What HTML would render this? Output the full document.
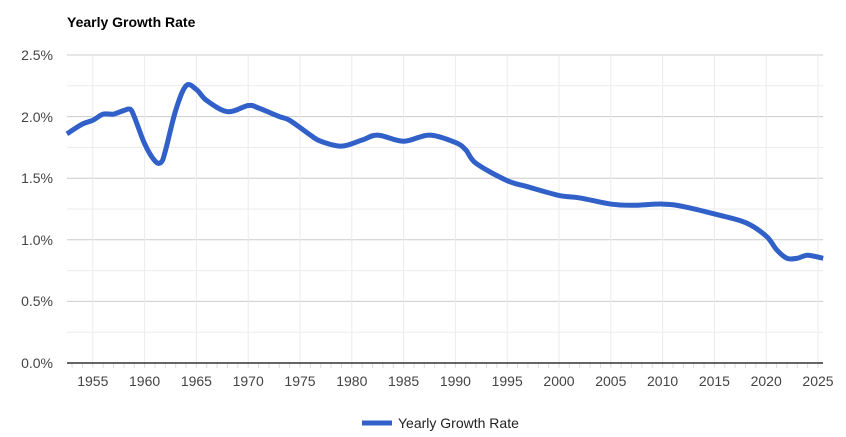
<!DOCTYPE html>
<html><head><meta charset="utf-8"><style>
body{margin:0;background:#fff;}
svg{display:block;font-family:"Liberation Sans",Arial,sans-serif;}
</style></head><body>
<svg id="s" width="846" height="437" xmlns="http://www.w3.org/2000/svg">
<text x="67" y="27" font-size="14" font-weight="bold" fill="#000">Yearly Growth Rate</text>
<g id="grid"></g>
<g font-size="14" fill="#444" text-anchor="end">
<text x="53" y="60">2.5%</text>
<text x="53" y="122">2.0%</text>
<text x="53" y="183">1.5%</text>
<text x="53" y="245">1.0%</text>
<text x="53" y="306">0.5%</text>
<text x="53" y="368">0.0%</text>
</g>
<g id="xl" font-size="14" fill="#444" text-anchor="middle"></g>
<path id="ln" fill="none" stroke="#3060c8" stroke-width="5" stroke-linejoin="round" stroke-linecap="butt"/>
<line x1="362" y1="423" x2="392" y2="423" stroke="#3060c8" stroke-width="5"/>
<text x="398" y="428" font-size="14" fill="#222">Yearly Growth Rate</text>
</svg>
<script>
var X=function(y){return 818+(y-2025)*10.36;};
var Y=function(v){return 363-v*123.2;};
var g='';
for(var i=1;i<=10;i++){var yy=363-i*30.8;g+='<line x1="67" x2="823" y1="'+yy+'" y2="'+yy+'" stroke="'+(i%2==0?'#ccc':'#ebebeb')+'" stroke-width="1"/>';}
for(var yr=1955;yr<=2025;yr+=5){var x=X(yr);g+='<line x1="'+x+'" x2="'+x+'" y1="55" y2="363" stroke="#ebebeb"/>';}
for(var yr=1953;yr<=2025;yr++){var x=X(yr);g+='<line x1="'+x+'" x2="'+x+'" y1="363" y2="368" stroke="#ddd"/>';}
g+='<line x1="67" x2="823" y1="363" y2="363" stroke="#333" stroke-width="1.5"/>';
document.getElementById('grid').innerHTML=g;
var xl='';for(var yr=1955;yr<=2025;yr+=5){xl+='<text x="'+X(yr)+'" y="386">'+yr+'</text>';}
document.getElementById('xl').innerHTML=xl;
var d=[[1952.5,1.86],[1954,1.94],[1955,1.97],[1956,2.02],[1957,2.02],[1958,2.05],[1958.6,2.06],[1959,2.0],[1960,1.78],[1961,1.64],[1961.6,1.63],[1962,1.72],[1963,2.05],[1964,2.25],[1965,2.22],[1966,2.13],[1968,2.04],[1970,2.09],[1971,2.07],[1973,2.0],[1974,1.97],[1976,1.85],[1977,1.8],[1979,1.76],[1981,1.81],[1982.5,1.85],[1985,1.80],[1987.5,1.85],[1990,1.79],[1991,1.73],[1992,1.62],[1995,1.48],[1997,1.43],[2000,1.36],[2002,1.34],[2005,1.29],[2007,1.28],[2010,1.29],[2012,1.27],[2015,1.21],[2018,1.14],[2020,1.03],[2021,0.92],[2022,0.85],[2023,0.85],[2024,0.875],[2025.5,0.85]];
var p=d.map(function(a){return [X(a[0]),Y(a[1])];});
var s='M'+p[0][0]+','+p[0][1];
for(var i=0;i<p.length-1;i++){var p0=p[Math.max(0,i-1)],p1=p[i],p2=p[i+1],p3=p[Math.min(p.length-1,i+2)];
var c1=[p1[0]+(p2[0]-p0[0])/6,p1[1]+(p2[1]-p0[1])/6],c2=[p2[0]-(p3[0]-p1[0])/6,p2[1]-(p3[1]-p1[1])/6];
s+=' C'+c1[0]+','+c1[1]+' '+c2[0]+','+c2[1]+' '+p2[0]+','+p2[1];}
document.getElementById('ln').setAttribute('d',s);
</script>
</body></html>
